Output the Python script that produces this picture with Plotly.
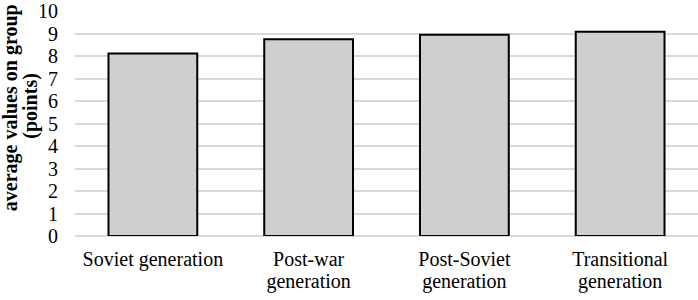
import plotly.graph_objects as go

categories = ["Soviet generation", "Post-war generation", "Post-Soviet generation", "Transitional generation"]
label_line1 = ["Soviet generation", "Post-war", "Post-Soviet", "Transitional"]
label_line2 = ["", "generation", "generation", "generation"]
values = [8.11, 8.74, 8.95, 9.08]
y_ticks = list(range(0, 11))

fig = go.Figure()
fig.add_trace(go.Bar(
    x=categories, y=values,
    marker=dict(color="#d0cece", line=dict(color="#000000", width=2)),
    width=0.57, hoverinfo="skip",
))
# invisible helper trace for the second line of category labels
fig.add_trace(go.Scatter(
    x=categories, y=values, xaxis="x2", mode="markers",
    marker=dict(opacity=0), hoverinfo="skip", showlegend=False,
))

fig.update_layout(
    width=698, height=300,
    margin=dict(l=75, r=0, t=8, b=64),
    plot_bgcolor="white", paper_bgcolor="white",
    showlegend=False,
    font=dict(family="Liberation Serif", color="#000000"),
    xaxis=dict(
        type="category", categoryarray=categories, range=[-0.5, 3.5],
        tickvals=categories, ticktext=label_line1,
        tickfont=dict(size=20), ticks="", showline=False, showgrid=False,
        ticklabelstandoff=9,
    ),
    xaxis2=dict(
        type="category", categoryarray=categories, range=[-0.5, 3.5],
        overlaying="x", side="bottom", anchor="y",
        tickvals=categories, ticktext=label_line2,
        tickfont=dict(size=20), ticks="", showline=False, showgrid=False,
        ticklabelstandoff=31,
    ),
    yaxis=dict(
        range=[0, 10], tickvals=y_ticks, showgrid=True, gridcolor="#d9d9d9", gridwidth=2,
        zeroline=True, zerolinecolor="#d9d9d9", zerolinewidth=2,
        tickfont=dict(size=20), ticks="", ticklabelstandoff=16,
        ticklabeloverflow="allow",
    ),
)

plot_w = 698 - 75
plot_h = 300 - 8 - 64
fig.add_annotation(
    text="<b>average values on group</b>", textangle=-90,
    xref="paper", yref="paper", x=(10 - 75) / plot_w, y=(236 - 106.5) / plot_h,
    xanchor="center", yanchor="middle", showarrow=False,
    font=dict(size=20, family="Liberation Serif", color="#000000"),
)
fig.add_annotation(
    text="<b>(points)</b>", textangle=-90,
    xref="paper", yref="paper", x=(31 - 75) / plot_w, y=(236 - 104) / plot_h,
    xanchor="center", yanchor="middle", showarrow=False,
    font=dict(size=20, family="Liberation Serif", color="#000000"),
)

fig.write_html("out.html")
